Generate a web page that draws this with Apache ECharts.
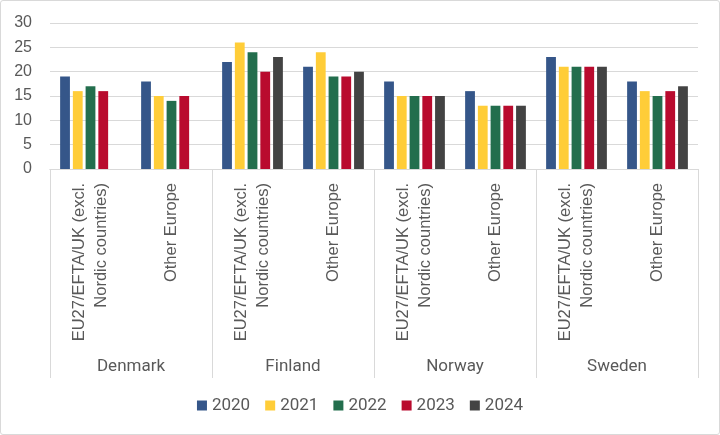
<!DOCTYPE html>
<html>
<head>
<meta charset="utf-8">
<script src="https://cdn.jsdelivr.net/npm/echarts@6/dist/echarts.min.js"></script>
<style>
  html, body { margin: 0; padding: 0; background: #fff; }
  #chart { width: 720px; height: 435px; box-sizing: border-box; border: 1px solid #d9d9d9; border-radius: 3px; }
</style>
</head>
<body>
<div id="chart"></div>
<script>
// categories
const countries = ["Denmark", "Finland", "Norway", "Sweden"];
const regions = ["EU27/EFTA/UK (excl.\nNordic countries)", "Other Europe"];
const years = ["2020", "2021", "2022", "2023", "2024"];
const colors = ["#355689", "#FFCD38", "#236E4D", "#B90B2E", "#434343"];

// values per category, order: DK-EU, DK-Other, FI-EU, FI-Other, NO-EU, NO-Other, SE-EU, SE-Other
const y2020 = [19, 18, 22, 21, 18, 16, 23, 18];
const y2021 = [16, 15, 26, 24, 15, 13, 21, 16];
const y2022 = [17, 14, 24, 19, 15, 13, 21, 15];
const y2023 = [16, 15, 20, 19, 15, 13, 21, 16];
const y2024 = [null, null, 23, 20, 15, 13, 21, 17];
const yTicks = [0, 5, 10, 15, 20, 25, 30];

const seriesValues = [y2020, y2021, y2022, y2023, y2024];
const cats = [];
countries.forEach(() => regions.forEach(r => cats.push(r)));

const chart = echarts.init(document.getElementById("chart"));
const font = "Liberation Sans";
const narrow = "Roboto";
chart.setOption({
  animation: false,
  color: colors,
  grid: { left: 49, right: 21, top: 22, bottom: 265 },
  legend: {
    top: 391,
    left: "center",
    itemWidth: 10,
    itemHeight: 10,
    itemGap: 15,
    icon: "rect",
    textStyle: { color: "#595959", fontSize: 17, fontFamily: narrow },
    data: years
  },
  xAxis: [
    {
      type: "category",
      data: cats,
      axisLine: { show: true, lineStyle: { color: "#d9d9d9" } },
      axisTick: { show: false },
      axisLabel: {
        rotate: 90,
        interval: 0,
        margin: 14,
        color: "#595959",
        fontSize: 16.5,
        fontFamily: font,
        lineHeight: 22
      }
    },
    {
      type: "category",
      data: countries,
      position: "bottom",
      axisLine: { show: true, lineStyle: { color: "#d9d9d9" } },
      axisTick: { show: true, length: 209, lineStyle: { color: "#d9d9d9" } },
      axisLabel: {
        margin: 189,
        color: "#595959",
        fontSize: 17,
        fontFamily: narrow
      }
    }
  ],
  yAxis: {
    type: "value",
    min: yTicks[0],
    max: yTicks[yTicks.length - 1],
    interval: 5,
    axisLine: { show: false },
    axisTick: { show: false },
    axisLabel: { color: "#595959", fontSize: 16, fontFamily: font, margin: 18 },
    splitLine: { lineStyle: { color: "#d9d9d9" } }
  },
  series: years.map((y, i) => ({
    name: y,
    type: "bar",
    data: seriesValues[i],
    barGap: "30%",
    barCategoryGap: "25%"
  }))
});
</script>
</body>
</html>
